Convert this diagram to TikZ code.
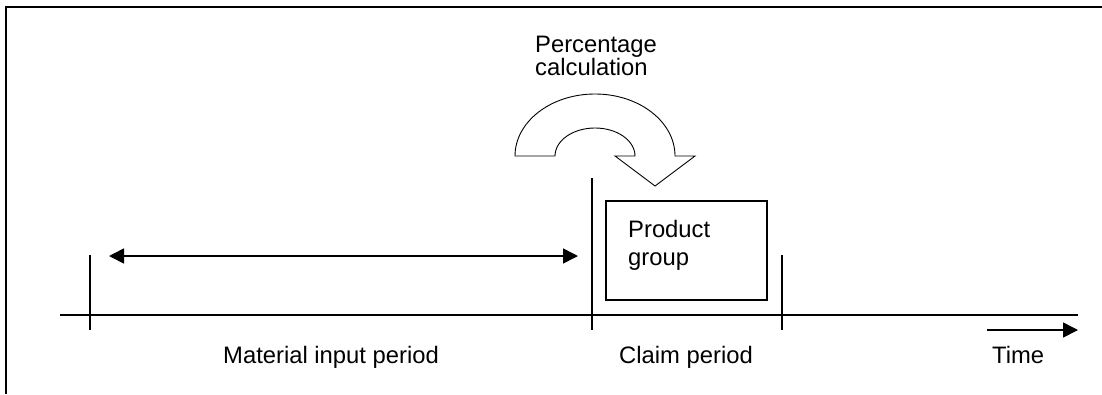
\documentclass[tikz,border=0pt]{standalone}
\usepackage{fontspec}
\setmainfont{Liberation Sans}
\usetikzlibrary{arrows.meta}
\begin{document}
\begin{tikzpicture}[x=1pt,y=-1pt,
  thinline/.style={line width=1.6pt,black},
  label/.style={inner sep=0pt,font=\fontsize{23.8}{23}\selectfont,align=left},
  headtip/.style={-{Triangle[length=15pt,width=15pt]}},
  bentarrow/.style={draw=black,fill=white,line width=0.9pt,line join=miter}]
\useasboundingbox (0,0) rectangle (1102,394);
% frame
\coordinate (fb) at (6,394);
\coordinate (fc) at (6,7);
\coordinate (fr) at (1102,7);
\draw[thinline] (fb) -- (fc) -- (fr);
% timeline
\coordinate (tl) at (60,315);
\coordinate (tr) at (1078,315);
\draw[thinline] (tl) -- (tr);
% ticks
\coordinate (t1a) at (90,255);  \coordinate (t1b) at (90,330);
\coordinate (t2a) at (592,178); \coordinate (t2b) at (592,330);
\coordinate (t3a) at (782,255); \coordinate (t3b) at (782,330);
\draw[thinline] (t1a) -- (t1b);
\draw[thinline] (t2a) -- (t2b);
\draw[thinline] (t3a) -- (t3b);
% double arrow
\coordinate (da) at (109,256);
\coordinate (db) at (578,256);
\draw[thinline,{Triangle[length=15pt,width=15pt]}-{Triangle[length=15pt,width=15pt]}] (da) -- (db);
% time arrow
\coordinate (ta) at (987,330);
\coordinate (tb) at (1078,330);
\draw[thinline,headtip] (ta) -- (tb);
% product group box
\node[draw=black,line width=1.6pt,minimum width=161pt,minimum height=99pt,inner sep=0pt] (box) at (686.5,250.5) {};
\node[label,anchor=base west,font=\fontsize{23.8}{28}\selectfont] (pg) at (628,265) {Product\\group};
% curved arrow
\path[bentarrow] (515,156) arc[start angle=180,end angle=0,x radius=80pt,y radius=62pt]
  -- (695,156) -- (655,186) -- (615,156) -- (635,156)
  arc[start angle=0,end angle=180,x radius=40pt,y radius=28pt] -- cycle;
\node[label,anchor=base west] (pc) at (535,75) {Percentage\\calculation};
% labels
\node[label,anchor=base west] (mip) at (223,363) {Material input period};
\node[label,anchor=base west] (cp) at (619,363) {Claim period};
\node[label,anchor=base west] (time) at (992,363) {Time};
\end{tikzpicture}
\end{document}
